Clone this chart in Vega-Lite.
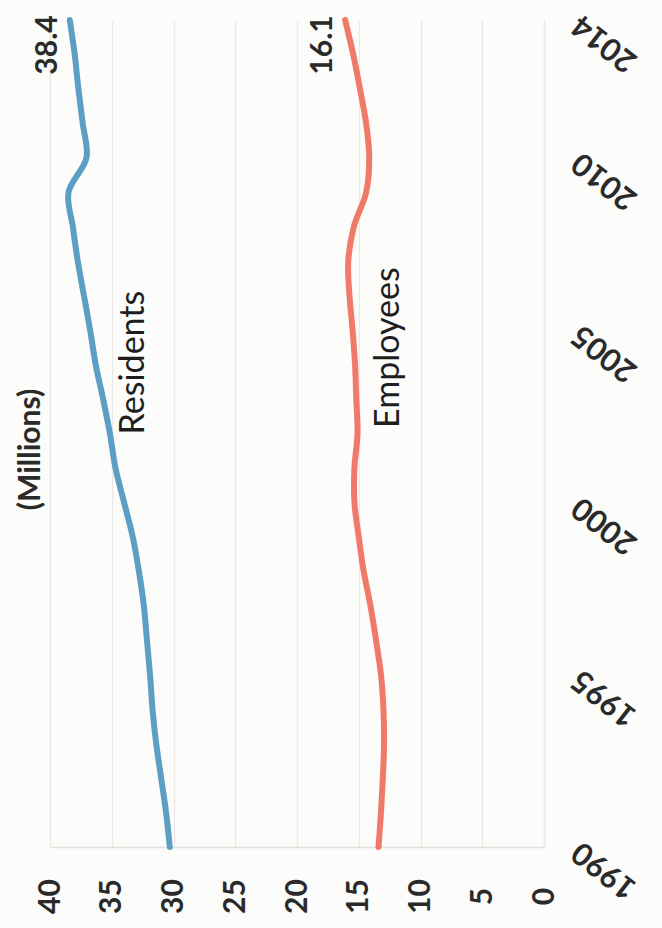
{
  "$schema": "https://vega.github.io/schema/vega-lite/v6.json",
  "width": 494,
  "height": 827,
  "autosize": {"type": "none"},
  "padding": {"left": 50, "top": 20, "right": 118, "bottom": 81},
  "background": "#fcfcfa",
  "config": {
    "view": {"stroke": null},
    "font": "Lato",
    "text": {"font": "Lato", "color": "#2a2a2a"}
  },
  "title": {
    "text": "(Millions)",
    "orient": "left",
    "anchor": "middle",
    "angle": -90,
    "font": "Lato",
    "fontSize": 30,
    "fontWeight": "bold",
    "color": "#2a2a2a",
    "offset": 8,
    "dx": -16,
    "dy": 21
  },
  "data": {
    "values": [
      {"year": 1990, "series": "Residents", "value": 30.3},
      {"year": 1991, "series": "Residents", "value": 30.6},
      {"year": 1992, "series": "Residents", "value": 31.0},
      {"year": 1993, "series": "Residents", "value": 31.4},
      {"year": 1994, "series": "Residents", "value": 31.7},
      {"year": 1995, "series": "Residents", "value": 31.9},
      {"year": 1996, "series": "Residents", "value": 32.15},
      {"year": 1997, "series": "Residents", "value": 32.4},
      {"year": 1998, "series": "Residents", "value": 32.8},
      {"year": 1999, "series": "Residents", "value": 33.3},
      {"year": 2000, "series": "Residents", "value": 34.0},
      {"year": 2001, "series": "Residents", "value": 34.7},
      {"year": 2002, "series": "Residents", "value": 35.15},
      {"year": 2003, "series": "Residents", "value": 35.7},
      {"year": 2004, "series": "Residents", "value": 36.3},
      {"year": 2005, "series": "Residents", "value": 36.75},
      {"year": 2006, "series": "Residents", "value": 37.25},
      {"year": 2007, "series": "Residents", "value": 37.75},
      {"year": 2008, "series": "Residents", "value": 38.15},
      {"year": 2009, "series": "Residents", "value": 38.5},
      {"year": 2010, "series": "Residents", "value": 37.05},
      {"year": 2011, "series": "Residents", "value": 37.35},
      {"year": 2012, "series": "Residents", "value": 37.7},
      {"year": 2013, "series": "Residents", "value": 38.0},
      {"year": 2014, "series": "Residents", "value": 38.4},
      {"year": 1990, "series": "Employees", "value": 13.4},
      {"year": 1991, "series": "Employees", "value": 13.2},
      {"year": 1992, "series": "Employees", "value": 13.05},
      {"year": 1993, "series": "Employees", "value": 12.95},
      {"year": 1994, "series": "Employees", "value": 13.0},
      {"year": 1995, "series": "Employees", "value": 13.2},
      {"year": 1996, "series": "Employees", "value": 13.6},
      {"year": 1997, "series": "Employees", "value": 14.05},
      {"year": 1998, "series": "Employees", "value": 14.6},
      {"year": 1999, "series": "Employees", "value": 15.0},
      {"year": 2000, "series": "Employees", "value": 15.35},
      {"year": 2001, "series": "Employees", "value": 15.35},
      {"year": 2002, "series": "Employees", "value": 15.1},
      {"year": 2003, "series": "Employees", "value": 15.2},
      {"year": 2004, "series": "Employees", "value": 15.3},
      {"year": 2005, "series": "Employees", "value": 15.5},
      {"year": 2006, "series": "Employees", "value": 15.75},
      {"year": 2007, "series": "Employees", "value": 15.85},
      {"year": 2008, "series": "Employees", "value": 15.4},
      {"year": 2009, "series": "Employees", "value": 14.4},
      {"year": 2010, "series": "Employees", "value": 14.15},
      {"year": 2011, "series": "Employees", "value": 14.4},
      {"year": 2012, "series": "Employees", "value": 14.9},
      {"year": 2013, "series": "Employees", "value": 15.45},
      {"year": 2014, "series": "Employees", "value": 16.1}
    ]
  },
  "encoding": {
    "x": {
      "field": "value",
      "type": "quantitative",
      "scale": {"domain": [0, 40], "reverse": true, "nice": false, "zero": true},
      "axis": {
        "orient": "bottom",
        "title": null,
        "values": [0, 5, 10, 15, 20, 25, 30, 35, 40],
        "labelAngle": -90,
        "labelAlign": "center",
        "labelBaseline": "middle",
        "labelPadding": 49,
        "labelFont": "Lato",
        "labelFontSize": 30,
        "labelFontWeight": "bold",
        "labelColor": "#2a2a2a",
        "labelOverlap": false,
        "labelFlush": false,
        "ticks": false,
        "tickSize": 0,
        "domain": true,
        "domainColor": "#e2e0dc",
        "domainWidth": 1.5,
        "grid": true,
        "gridColor": "#ebe9e5",
        "gridWidth": 1.5
      }
    },
    "y": {
      "field": "year",
      "type": "quantitative",
      "scale": {"domain": [1990, 2014], "nice": false, "zero": false},
      "axis": {
        "orient": "right",
        "title": null,
        "values": [1990, 1995, 2000, 2005, 2010, 2014],
        "format": "d",
        "labelAngle": -142,
        "labelAlign": "right",
        "labelBaseline": "middle",
        "labelPadding": 32,
        "labelFont": "Lato",
        "labelFontSize": 31,
        "labelFontWeight": "bold",
        "labelColor": "#2a2a2a",
        "labelOverlap": false,
        "labelFlush": false,
        "labelBound": false,
        "ticks": false,
        "tickSize": 0,
        "domain": true,
        "domainColor": "#ebe9e5",
        "domainWidth": 1.5,
        "grid": false
      }
    }
  },
  "layer": [
    {
      "mark": {"type": "line", "strokeWidth": 6, "interpolate": "catmull-rom", "strokeCap": "round", "strokeJoin": "round"},
      "encoding": {
        "order": {"field": "year", "type": "quantitative"},
        "color": {
          "field": "series",
          "type": "nominal",
          "scale": {"domain": ["Residents", "Employees"], "range": ["#5b9fc5", "#f07a68"]},
          "legend": null
        }
      }
    },
    {
      "transform": [{"filter": "datum.year === 2014"}],
      "mark": {"type": "text", "angle": -90, "align": "center", "baseline": "middle", "fontSize": 30, "fontWeight": "bold", "dx": -25, "dy": -22},
      "encoding": {
        "text": {"field": "value", "type": "quantitative", "format": ".1f"}
      }
    },
    {
      "transform": [{"filter": "datum.year === 2004 && datum.series === 'Residents'"}],
      "mark": {"type": "text", "angle": -90, "align": "center", "baseline": "middle", "fontSize": 34, "color": "#1e1e1e", "dx": 2, "dy": 38},
      "encoding": {
        "text": {"field": "series", "type": "nominal"}
      }
    },
    {
      "transform": [{"filter": "datum.year === 2004 && datum.series === 'Employees'"}],
      "mark": {"type": "text", "angle": -90, "align": "center", "baseline": "middle", "fontSize": 34, "color": "#1e1e1e", "dx": 17, "dy": 34},
      "encoding": {
        "text": {"field": "series", "type": "nominal"}
      }
    }
  ]
}
